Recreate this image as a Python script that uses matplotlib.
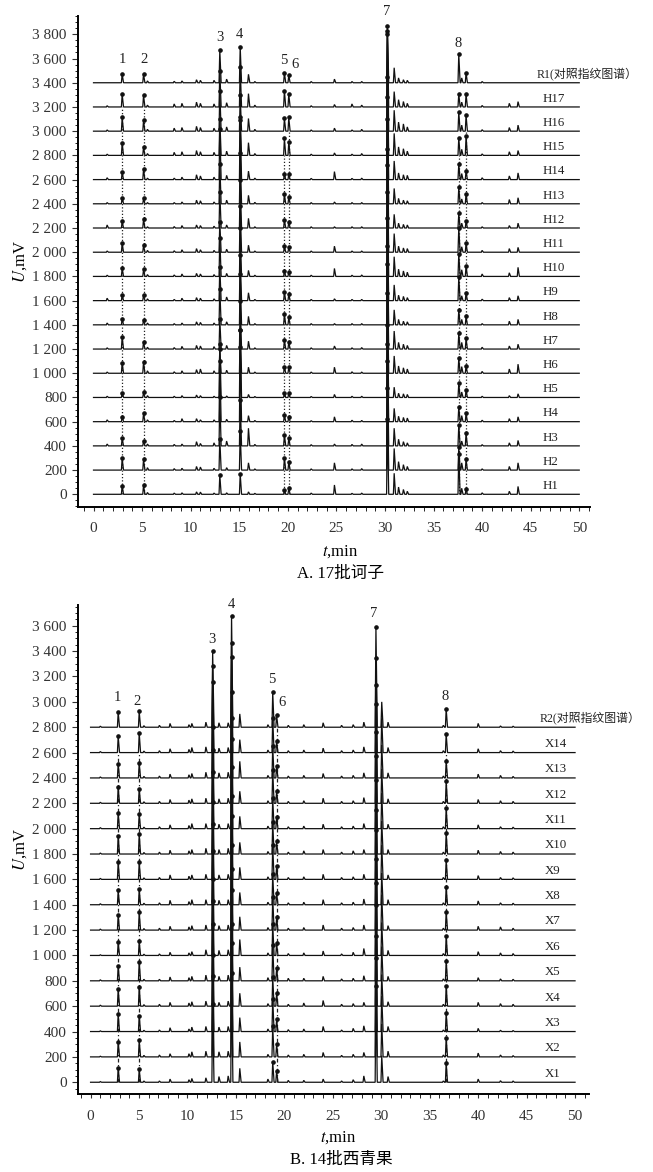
import numpy as np
import matplotlib
matplotlib.use("Agg")
import matplotlib.pyplot as plt
from matplotlib.ticker import MultipleLocator, FuncFormatter

plt.rcParams['font.family'] = ['Liberation Serif', 'Noto Sans CJK SC']
plt.rcParams['mathtext.fontset'] = 'stix'

# ---------------- panel A : 17 batches of 诃子 + reference R1 ----------------
names_A = ['H%d' % i for i in range(1, 18)] + ['R1(对照指纹图谱）']
main_t_A = [2.95, 5.15, 13.0, 15.1, 19.65, 20.1, 30.25, 37.6, 38.35]
marked_A = [1, 1, 1, 1, 1, 1, 1, 1, 1]
# heights (mV) of the main peaks, one value per trace H1..H17, R1
pA1 = [72, 96, 63, 41, 41, 88, 102, 50, 47, 69, 74, 55, 52, 60, 105, 113, 105, 72]
pA2 = [77, 91, 41, 69, 44, 96, 61, 41, 50, 58, 58, 74, 44, 88, 72, 91, 99, 72]
pA3 = [160, 260, 400, 500, 440, 200, 250, 300, 280, 320, 250, 300, 330, 420, 300, 330, 300, 270]
pA4 = [170, 320, 380, 620, 560, 360, 400, 420, 380, 400, 380, 400, 420, 520, 290, 300, 330, 297]
pA5 = [36, 102, 91, 55, 36, 55, 74, 88, 69, 44, 50, 66, 77, 47, 140, 105, 135, 83]
pA6 = [50, 69, 63, 41, 36, 50, 61, 61, 55, 39, 44, 52, 58, 47, 113, 113, 105, 63]
pA7 = [620, 680, 700, 640, 600, 660, 700, 650, 680, 700, 720, 650, 700, 680, 650, 800, 630, 470]
pA8 = [330, 193, 174, 124, 118, 124, 130, 124, 198, 185, 201, 121, 135, 130, 146, 160, 110, 237]
pA8b = [44, 91, 105, 69, 63, 61, 88, 69, 66, 88, 72, 58, 85, 74, 160, 132, 105, 83]
main_h_A = [pA1, pA2, pA3, pA4, pA5, pA6, pA7, pA8, pA8b]

minor_t_A = [1.4, 5.55, 8.3, 9.1, 10.6, 11.0, 12.4, 13.7, 15.95, 16.6, 22.4,
             24.8, 26.6, 27.6, 30.95, 31.4, 31.9, 32.3, 37.9, 40.0, 42.8, 43.7]
minor_h_A = [
    [0, 15, 10, 12, 20, 18, 10, 12, 20, 8, 10, 77, 8, 10, 174, 60, 40, 25, 50, 12, 25, 65],
    [0, 20, 12, 15, 30, 25, 15, 20, 60, 10, 10, 60, 10, 12, 179, 70, 45, 30, 60, 10, 30, 60],
    [15, 15, 12, 15, 35, 20, 25, 40, 146, 12, 10, 15, 12, 15, 146, 55, 35, 25, 40, 10, 25, 45],
    [15, 15, 10, 25, 25, 15, 15, 20, 50, 10, 8, 40, 12, 10, 110, 45, 35, 30, 50, 12, 25, 40],
    [10, 15, 10, 15, 20, 15, 10, 12, 25, 8, 8, 25, 10, 10, 85, 35, 30, 25, 45, 10, 15, 30],
    [10, 20, 12, 20, 30, 35, 20, 25, 50, 10, 10, 50, 12, 10, 143, 60, 45, 35, 55, 15, 35, 75],
    [10, 15, 12, 22, 30, 25, 20, 30, 65, 10, 10, 25, 10, 12, 149, 55, 40, 30, 55, 15, 25, 40],
    [15, 15, 10, 15, 25, 20, 15, 25, 70, 10, 10, 10, 10, 10, 124, 45, 30, 25, 45, 10, 30, 45],
    [20, 15, 10, 20, 25, 20, 15, 30, 65, 10, 10, 15, 10, 10, 130, 45, 35, 25, 40, 12, 25, 40],
    [10, 15, 12, 20, 25, 20, 15, 25, 50, 10, 10, 66, 10, 12, 163, 60, 45, 35, 55, 20, 30, 75],
    [10, 15, 12, 20, 30, 20, 15, 25, 58, 10, 10, 50, 10, 10, 154, 50, 35, 30, 45, 15, 30, 40],
    [25, 10, 12, 20, 25, 20, 15, 25, 80, 10, 10, 10, 10, 10, 113, 40, 30, 25, 40, 10, 20, 40],
    [10, 10, 10, 15, 30, 25, 15, 30, 70, 12, 10, 15, 10, 10, 127, 45, 30, 25, 40, 10, 35, 50],
    [15, 12, 12, 20, 40, 30, 20, 35, 70, 12, 10, 66, 10, 12, 154, 55, 40, 35, 50, 15, 30, 55],
    [10, 15, 25, 30, 40, 30, 25, 35, 105, 15, 10, 20, 10, 15, 182, 70, 55, 35, 50, 12, 30, 40],
    [10, 15, 25, 30, 40, 30, 25, 35, 105, 15, 10, 25, 10, 15, 173, 75, 60, 35, 50, 12, 30, 50],
    [10, 15, 25, 30, 40, 30, 25, 35, 110, 15, 10, 20, 25, 15, 127, 60, 45, 30, 40, 12, 30, 44],
    [0, 15, 12, 15, 25, 20, 20, 30, 70, 10, 10, 30, 10, 10, 124, 40, 25, 20, 40, 10, 0, 0],
]
dot_t_A = [2.95, 5.15, 19.65, 20.1, 37.6, 38.35]
dot_top_A = [3200, 3200, 2800, 3000, 2800, 3000]
num_t_A = [2.96, 5.17, 12.97, 15.0, 19.55, 20.75, 30.2, 37.55]
num_y_A = [3589, 3589, 3777, 3796, 3581, 3548, 3985, 3727]

# ---------------- panel B : 14 batches of 西青果 + reference R2 ----------------
names_B = ['X%d' % i for i in range(1, 15)] + ['R2(对照指纹图谱）']
main_t_B = [2.85, 5.02, 12.6, 14.55, 18.8, 19.2, 29.45, 30.05, 36.7]
marked_B = [1, 1, 1, 1, 1, 1, 1, 0, 1]
pB1 = [116, 118, 139, 137, 113, 105, 118, 113, 134, 145, 124, 126, 113, 129, 118]
pB2 = [102, 131, 124, 155, 152, 113, 139, 124, 134, 158, 116, 116, 118, 155, 124]
pB3 = [620, 640, 600, 650, 630, 600, 620, 640, 610, 650, 620, 600, 760, 683, 600]
pB4 = [860, 900, 850, 920, 880, 870, 900, 860, 890, 910, 870, 880, 956, 865, 880]
pB5 = [163, 240, 260, 230, 280, 250, 260, 240, 270, 250, 240, 260, 250, 270, 280]
pB6 = [92, 100, 95, 105, 100, 95, 100, 95, 105, 100, 95, 100, 95, 95, 97]
pB7 = [760, 780, 750, 800, 770, 760, 790, 750, 780, 770, 760, 780, 735, 743, 790]
pB7b = [210, 260, 280, 250, 270, 260, 280, 250, 270, 260, 280, 270, 260, 270, 200]
pB8 = [155, 152, 145, 160, 158, 152, 145, 139, 155, 166, 163, 173, 131, 150, 145]
main_h_B = [pB1, pB2, pB3, pB4, pB5, pB6, pB7, pB7b, pB8]

minor_t_B = [1.0, 5.5, 7.1, 8.2, 10.15, 10.45, 11.9, 13.25, 14.2, 15.4, 18.3,
             20.4, 22.0, 24.0, 25.9, 27.1, 28.2, 30.7, 36.4, 40.0, 42.3, 43.6]
minor_h_B = [
    [5, 10, 10, 25, 20, 30, 35, 45, 50, 110, 25, 15, 15, 25, 10, 20, 50, 45, 10, 25, 12, 10],
    [5, 12, 15, 25, 25, 40, 45, 40, 45, 118, 20, 15, 20, 35, 12, 20, 35, 45, 15, 30, 15, 10],
    [5, 10, 12, 30, 20, 35, 40, 35, 40, 110, 20, 15, 20, 40, 12, 25, 45, 40, 12, 25, 10, 8],
    [8, 12, 15, 30, 25, 35, 40, 30, 40, 102, 20, 15, 25, 45, 15, 20, 30, 35, 15, 30, 20, 15],
    [8, 12, 12, 30, 25, 35, 45, 35, 45, 108, 25, 20, 20, 35, 15, 20, 40, 35, 15, 25, 15, 12],
    [5, 10, 12, 25, 20, 30, 45, 40, 45, 126, 20, 15, 20, 35, 12, 25, 55, 40, 15, 30, 20, 15],
    [8, 12, 15, 30, 25, 35, 40, 35, 40, 105, 20, 15, 20, 40, 15, 20, 40, 35, 15, 30, 25, 15],
    [8, 12, 15, 35, 25, 40, 40, 35, 40, 97, 20, 15, 20, 40, 15, 20, 45, 40, 15, 30, 15, 12],
    [8, 12, 15, 35, 25, 35, 40, 35, 40, 95, 20, 15, 20, 40, 15, 20, 40, 35, 15, 30, 15, 12],
    [8, 12, 15, 30, 25, 35, 45, 35, 45, 92, 20, 15, 25, 35, 15, 25, 35, 35, 15, 30, 20, 15],
    [8, 12, 15, 30, 25, 40, 40, 35, 40, 97, 20, 15, 20, 35, 15, 20, 40, 35, 15, 30, 15, 12],
    [8, 12, 15, 30, 25, 35, 40, 35, 40, 95, 20, 15, 20, 40, 15, 20, 45, 35, 15, 30, 20, 15],
    [8, 12, 15, 30, 25, 35, 45, 40, 45, 131, 20, 15, 20, 35, 15, 20, 40, 40, 15, 30, 20, 12],
    [8, 12, 15, 30, 25, 40, 45, 35, 40, 102, 20, 15, 20, 35, 15, 20, 45, 40, 15, 30, 15, 12],
    [8, 12, 15, 30, 20, 30, 40, 35, 35, 105, 20, 15, 20, 35, 15, 20, 40, 40, 15, 30, 10, 8],
]
dot_t_B = [2.85, 5.02, 19.2, 36.7]
dot_top_B = [2600, 2600, 2800, 2600]
num_t_B = [2.75, 4.75, 12.49, 14.55, 18.7, 19.8, 29.25, 36.6]
num_y_B = [3036, 3001, 3488, 3764, 3180, 2994, 3693, 3041]

step = 200
t_end = 50
wl, wr = 0.08, 0.14


def draw_trace(ax, off, times, heights):
    pk = sorted(zip(times, heights))
    xs, ys = [0], [off]
    for t, h in pk:
        if h <= 0:
            continue
        xs += [t - wl, t, t + wr]
        ys += [off, off + h, off]
    xs.append(t_end)
    ys.append(off)
    ax.plot(xs, ys, color='#111111', lw=0.9, solid_joinstyle='miter')


def panel(ax, names, main_t, main_h, marked, minor_t, minor_h,
          dot_t, dot_top, num_t, num_y, ylim, xlim, ymax_tick, dotstyle, lab_x):
    for i, name in enumerate(names):
        off = i * step
        mh = [col[i] for col in main_h]
        draw_trace(ax, off, list(main_t) + list(minor_t), mh + list(minor_h[i]))
        mt = [t for t, m in zip(main_t, marked) if m]
        my = [off + h for h, m in zip(mh, marked) if m]
        ax.plot(mt, my, 'o', ms=2.3, color='#111111', zorder=3)
        is_ref = name.startswith('R')
        ax.text(lab_x - (0.6 if is_ref else 0), off + 68, name,
                fontsize=8.6 if is_ref else 9.3, ha='left', va='center',
                color='#222222')
    for t, top in zip(dot_t, dot_top):
        ax.plot([t, t], [0, top], color='#222222', lw=0.9, ls=dotstyle, zorder=1)
    for k, (t, y) in enumerate(zip(num_t, num_y)):
        ax.text(t, y, str(k + 1), fontsize=10.5, ha='center', va='center',
                clip_on=False, color='#222222')
    ax.set_xlim(*xlim)
    ax.set_ylim(*ylim)
    ax.spines['top'].set_visible(False)
    ax.spines['right'].set_visible(False)
    ax.spines['left'].set_linewidth(1.4)
    ax.spines['bottom'].set_linewidth(1.4)
    ax.set_xticks(np.arange(0, 51, 5))
    ax.xaxis.set_minor_locator(MultipleLocator(1))
    ax.set_yticks(np.arange(0, ymax_tick + 1, 200))
    ax.yaxis.set_minor_locator(MultipleLocator(50))
    ax.yaxis.set_major_formatter(FuncFormatter(lambda v, p: '{:,}'.format(int(v)).replace(',', ' ')))
    ax.tick_params(axis='y', which='major', length=4, width=0.8, pad=4, labelsize=11, colors='#333333')
    ax.tick_params(axis='y', which='minor', length=2, width=0.6)
    ax.tick_params(axis='x', which='major', length=3, width=0.8, pad=8, labelsize=11, colors='#333333')
    ax.tick_params(axis='x', which='minor', length=3, width=0.6)


fig = plt.figure(figsize=(6.53, 11.72), dpi=100)

axA = fig.add_axes([0.1194, 0.5674, 0.784, 0.4189])
panel(axA, names_A, main_t_A, main_h_A, marked_A, minor_t_A, minor_h_A,
      dot_t_A, dot_top_A, num_t_A, num_y_A, (-105, 3951), (-1.6, 51.1), 3800,
      (0, (1, 1.6)), 46.2)

axB = fig.add_axes([0.1194, 0.0663, 0.782, 0.4175])
panel(axB, names_B, main_t_B, main_h_B, marked_B, minor_t_B, minor_h_B,
      dot_t_B, dot_top_B, num_t_B, num_y_B, (-95, 3764), (-1.3, 51.4), 3600,
      (0, (3, 2, 1, 2)), 46.9)

fig.text(0.031, 0.7768, '$U$,mV', rotation=90, ha='center', va='center', fontsize=12)
fig.text(0.031, 0.2750, '$U$,mV', rotation=90, ha='center', va='center', fontsize=12)
fig.text(0.5207, 0.5290, '$t$,min', ha='center', va='center', fontsize=12)
fig.text(0.5207, 0.5102, 'A. 17批诃子', ha='center', va='center', fontsize=12)
fig.text(0.5176, 0.0290, '$t$,min', ha='center', va='center', fontsize=12)
fig.text(0.5220, 0.0102, 'B. 14批西青果', ha='center', va='center', fontsize=12)

fig.savefig('out.png', dpi=100)
